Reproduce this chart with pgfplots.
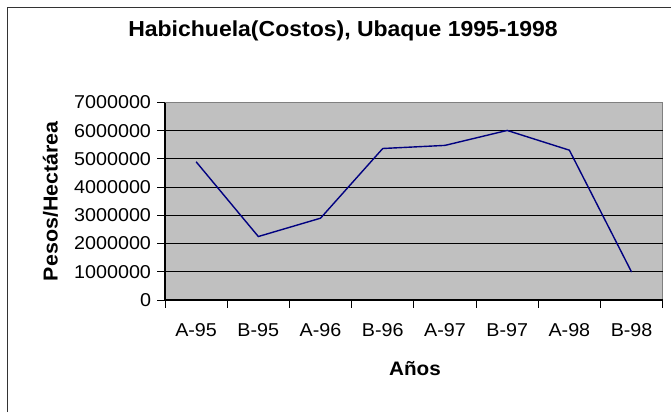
\documentclass[border=0pt]{standalone}
\usepackage{fontspec}
\setmainfont{Liberation Sans}[FakeStretch=1.06]
\usepackage{pgfplots}
\pgfplotsset{compat=1.18}
\definecolor{plotgray}{HTML}{C0C0C0}
\definecolor{navyline}{HTML}{000080}
\begin{document}
\begin{tikzpicture}[x=1bp,y=1bp]
\draw[line width=1.5bp, black!80] (-157.5,-112) -- (-157.5,292.5) -- (506,292.5);
\begin{axis}[
  at={(0bp,0bp)}, anchor=south west,
  scale only axis, width=497.7bp, height=197.5bp,
  xmin=-0.5, xmax=7.5, ymin=0, ymax=7000000,
  axis x line*=bottom, axis y line*=left,
  axis line style={black, line width=1.1bp, -},
  axis background/.style={fill=plotgray, draw=gray, line width=0.8bp},
  xtick={-0.5,0.5,...,7.5},
  xticklabels={A-95,B-95,A-96,B-96,A-97,B-97,A-98,B-98},
  x tick label as interval,
  ytick={0,1000000,2000000,3000000,4000000,5000000,6000000},
  yticklabels={0,1000000,2000000,3000000,4000000,5000000,6000000},
  extra y ticks={7000000}, extra y tick labels={7000000},
  extra y tick style={grid=none},
  scaled y ticks=false,
  ymajorgrids, major grid style={black, line width=0.9bp},
  tick align=outside, major tick length=7.5bp,
  tick style={black, line width=0.9bp},
  ticklabel style={font=\fontsize{18.6bp}{22bp}\selectfont},
  yticklabel style={xshift=-3bp},
  xticklabel style={yshift=-12bp},
  title={Habichuela(Costos), Ubaque 1995-1998},
  title style={at={(0.3577,1.3316)}, anchor=center, font=\bfseries\fontsize{21.7bp}{25bp}\selectfont},
  xlabel={Años},
  xlabel style={at={(0.5023,-0.349)}, anchor=center, font=\bfseries\fontsize{19.5bp}{23bp}\selectfont},
  ylabel={Pesos/Hectárea},
  ylabel style={at={(-0.230,0.5)}, anchor=center, font=\bfseries\fontsize{20.2bp}{23bp}\selectfont},
  clip=false,
]
\addplot[navyline, line width=1.4bp] coordinates {
(0,4900000) (1,2250000) (2,2900000) (3,5370000) (4,5480000) (5,6010000) (6,5310000) (7,990000)
};
\end{axis}
\pgfresetboundingbox
\path[use as bounding box] (-165,-112) rectangle (506,300);
\end{tikzpicture}
\end{document}
